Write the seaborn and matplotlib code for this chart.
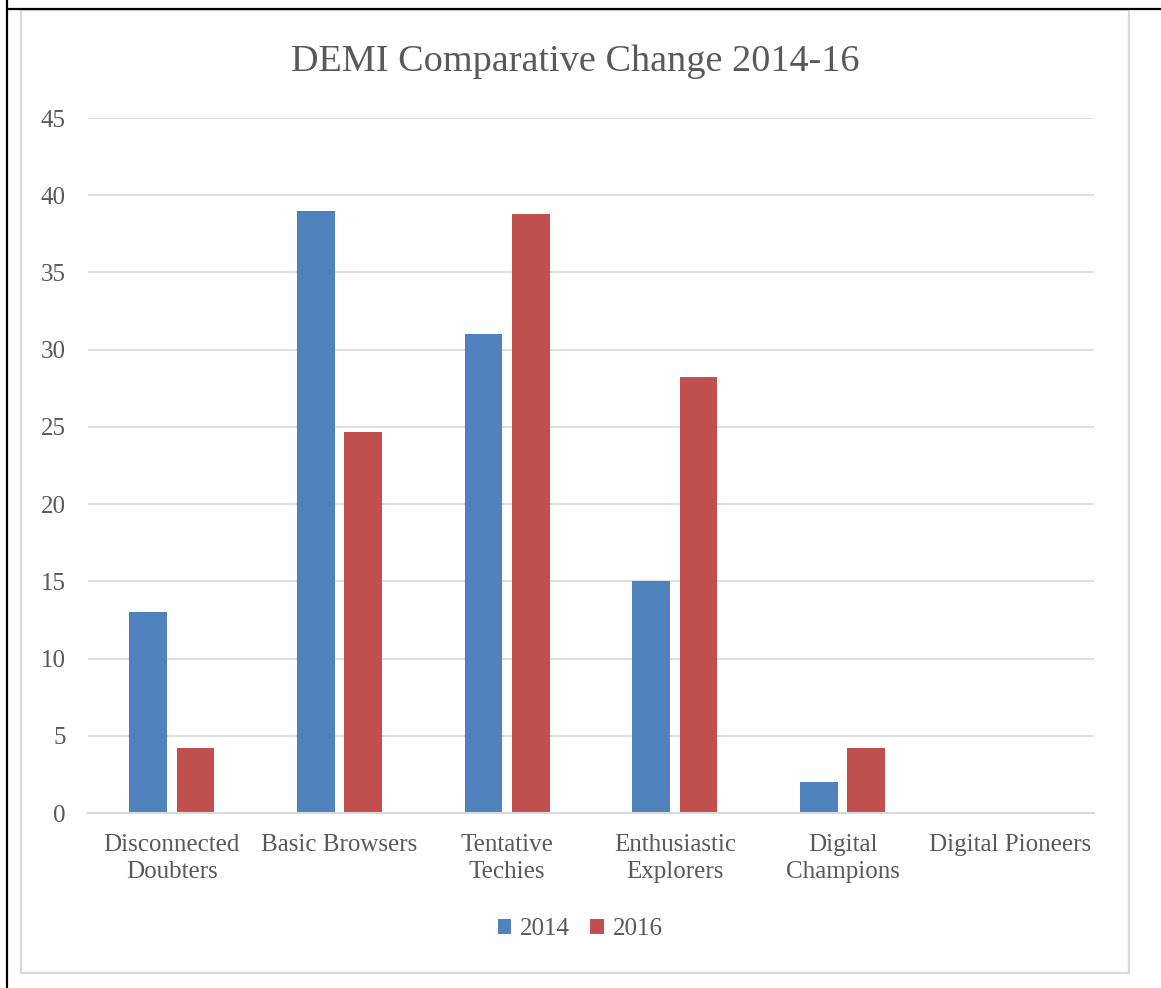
import matplotlib
matplotlib.use("Agg")
import matplotlib.pyplot as plt
from matplotlib.lines import Line2D
from matplotlib.patches import Rectangle, Patch
import pandas as pd
import seaborn as sns

# Chart data
categories = ["Disconnected\nDoubters", "Basic Browsers", "Tentative\nTechies",
              "Enthusiastic\nExplorers", "Digital\nChampions", "Digital Pioneers"]
years = ["2014", "2016"]
values_2014 = [13, 39, 31, 15, 2, 0]
values_2016 = [4.2, 24.7, 38.8, 28.2, 4.2, 0]
y_ticks = [0, 5, 10, 15, 20, 25, 30, 35, 40, 45]
title = "DEMI Comparative Change 2014-16"

colors = {"2014": "#4f81bd", "2016": "#c0504d"}
text_color = "#595959"
grid_color = "#d9d9d9"

df = pd.DataFrame({
    "category": categories * 2,
    "year": [years[0]] * len(categories) + [years[1]] * len(categories),
    "value": values_2014 + values_2016,
})

sns.set_theme(style="white")
plt.rcParams["font.family"] = ["Liberation Serif", "DejaVu Serif"]

W, H = 1161, 988
fig = plt.figure(figsize=(W / 100, H / 100), dpi=100)
ax = fig.add_axes([88 / W, 1 - 813 / H, (1094 - 88) / W, (813 - 118) / H])

sns.barplot(data=df, x="category", y="value", hue="year", order=categories,
            hue_order=years, palette=colors, width=0.567, gap=0.21,
            saturation=1, linewidth=0, ax=ax, legend=False)

ax.set_ylim(0, 45)
ax.set_yticks(y_ticks)
ax.set_xlabel("")
ax.set_ylabel("")
ax.yaxis.grid(True, color=grid_color, linewidth=1.2)
ax.set_axisbelow(True)
for side in ["top", "right", "left"]:
    ax.spines[side].set_visible(False)
ax.spines["bottom"].set_color(grid_color)
ax.spines["bottom"].set_linewidth(1.5)
ax.tick_params(axis="both", length=0, labelsize=18, labelcolor=text_color)
ax.tick_params(axis="y", pad=16)
ax.tick_params(axis="x", pad=15)
for lbl in ax.get_xticklabels():
    lbl.set_linespacing(1.3)

fig.text(575 / W, 1 - 62 / H, title, ha="center", va="center",
         fontsize=27.5, color=text_color)

handles = [Patch(facecolor=colors[y], edgecolor="none", label=y) for y in years]
fig.legend(handles=handles, loc="center", bbox_to_anchor=(580 / W, 1 - 929 / H),
           ncol=2, frameon=False, fontsize=18, labelcolor=text_color,
           handlelength=0.55, handleheight=0.55, handletextpad=0.35,
           columnspacing=0.8)

# Chart frame and page borders
fig.add_artist(Rectangle((21 / W, 1 - 973 / H), (1129 - 21) / W, (973 - 10) / H,
                         transform=fig.transFigure, fill=False,
                         edgecolor=grid_color, linewidth=1.6))
fig.add_artist(Line2D([7 / W, 7 / W], [0, 1], transform=fig.transFigure,
                      color="black", linewidth=1.6))
fig.add_artist(Line2D([7 / W, 1], [1 - 9.5 / H, 1 - 9.5 / H],
                      transform=fig.transFigure, color="black", linewidth=1.6))

fig.savefig("out.png", dpi=100, facecolor="white")
